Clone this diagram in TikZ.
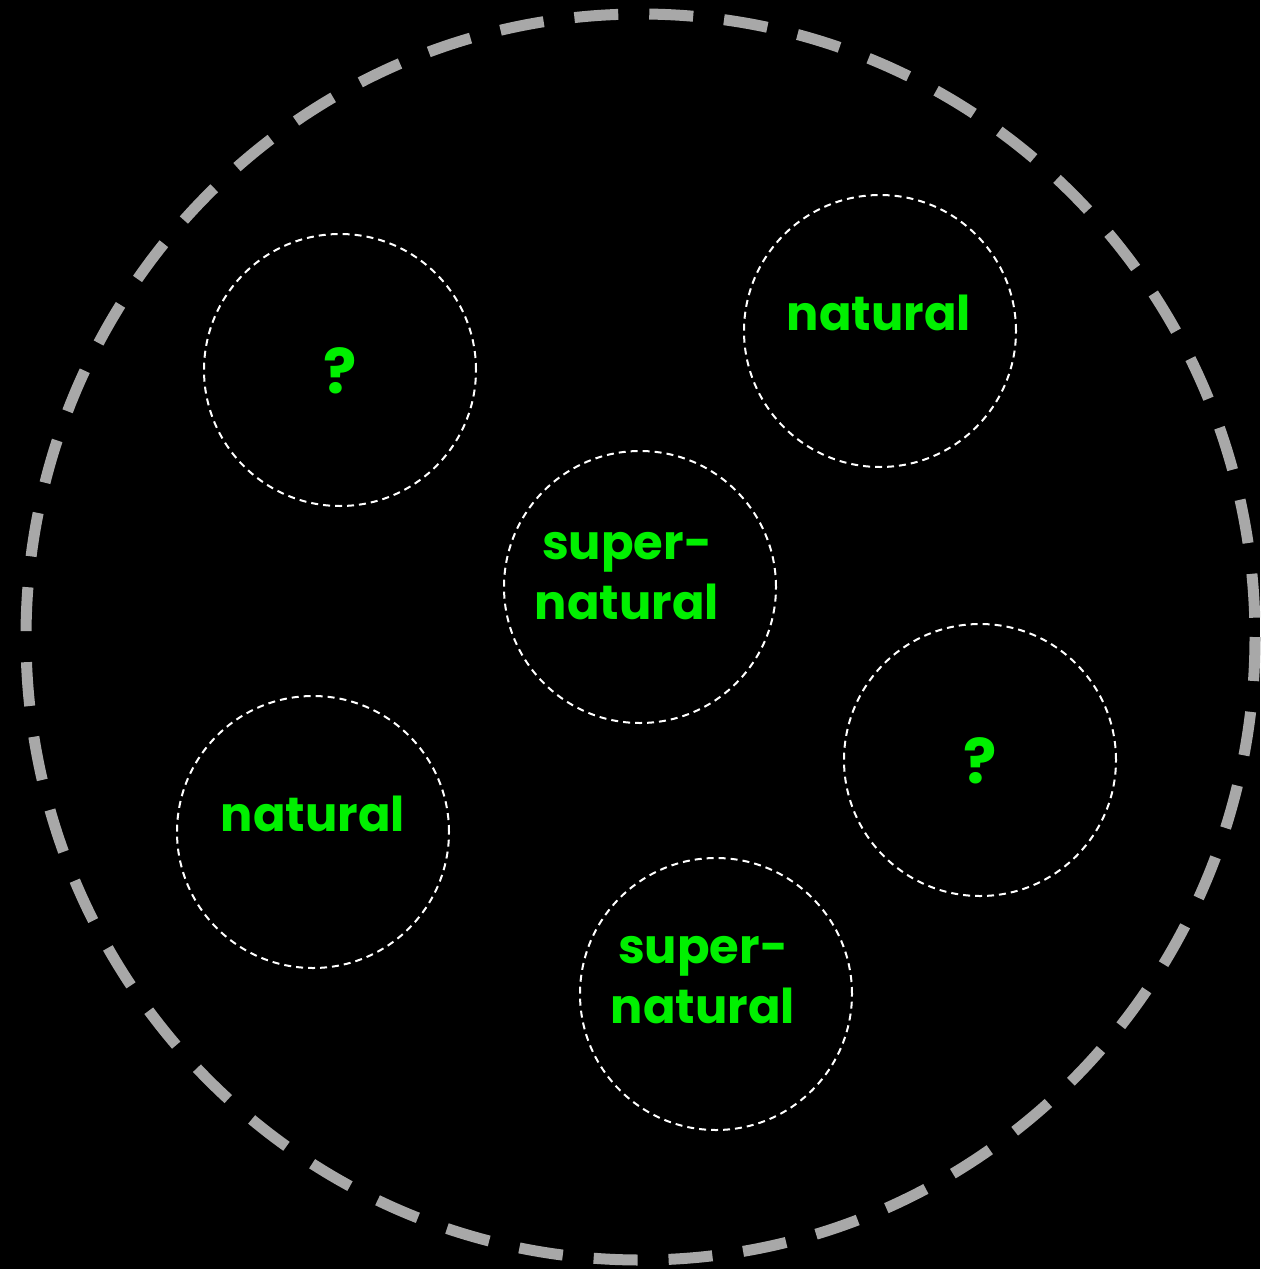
\documentclass[tikz,border=0pt]{standalone}
\usepackage{fontspec}
\setmainfont{Poppins}
\definecolor{ringgray}{HTML}{A8A8A8}
\definecolor{txtgreen}{HTML}{00F000}
\begin{document}
\begin{tikzpicture}[x=0.5pt,y=-0.5pt,
  ring/.style={draw=white,line width=1pt,dash pattern=on 3.5pt off 2.5pt,circle,minimum size=136pt,inner sep=0pt},
  lbl/.style={text=txtgreen,font=\fontsize{24}{30}\selectfont\bfseries,align=center,inner sep=0pt},
  qlbl/.style={lbl,font=\fontsize{31}{36}\selectfont\bfseries}]
\fill[black] (0,0) rectangle (1260,1269);
\useasboundingbox (0,0) rectangle (1260,1269);
\draw[ringgray,line width=5.5pt,dash pattern=on 22pt off 15.5pt] (640.5,637) ellipse [x radius=614.5, y radius=623];
\node[ring] (c1) at (340,370) {};
\node[ring] (c2) at (880,331) {};
\node[ring] (c3) at (640,587) {};
\node[ring] (c4) at (313,832) {};
\node[ring] (c5) at (980,760) {};
\node[ring] (c6) at (716,994) {};
\node[qlbl] (t1) at (340,371) {?};
\node[lbl] (t2) at (879,313) {natural};
\node[lbl] (t3) at (627,576) {super-\\natural};
\node[lbl] (t4) at (313,814) {natural};
\node[qlbl] (t5) at (980,761) {?};
\node[lbl] (t6) at (703,980) {super-\\natural};
\end{tikzpicture}
\end{document}
